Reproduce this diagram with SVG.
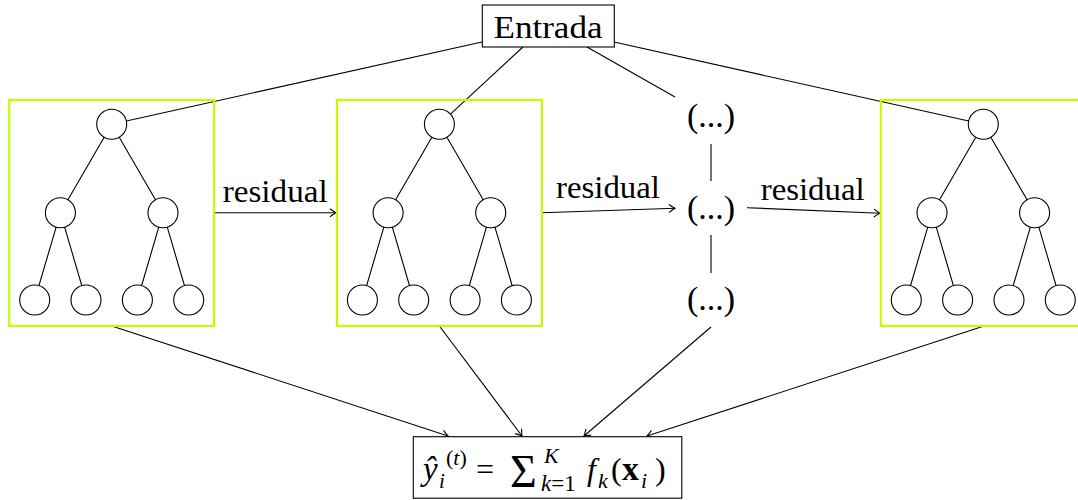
<svg xmlns="http://www.w3.org/2000/svg" width="1078" height="500" viewBox="0 0 1078 500">
<style>
.ln{stroke:#000;stroke-width:1.1;fill:none}
.nd{stroke:#000;stroke-width:1.1;fill:#fff}
.bx{stroke:#bfff00;stroke-width:2.2;fill:none}
.tx{font-family:"Liberation Serif","Times New Roman","DejaVu Serif",serif;fill:#000}
.it{font-style:italic}
</style>
<defs>
<marker id="ar" markerUnits="userSpaceOnUse" markerWidth="12" markerHeight="12" refX="0" refY="0" viewBox="-8 -6 10 12" orient="auto">
<path d="M-6,-4 Q-2,-1 0,0 Q-2,1 -6,4" stroke="#000" stroke-width="1.1" fill="none"/>
</marker>
<g id="tree">
<rect class="bx" x="-102.5" y="-24.3" width="205" height="226"/>
<path class="ln" d="M0,0 L-51.3,88.4 M0,0 L51.3,88.4 M-51.3,88.4 L-77,175.7 M-51.3,88.4 L-25.7,175.7 M51.3,88.4 L25.7,175.7 M51.3,88.4 L77,175.7"/>
<circle class="nd" cx="0" cy="0" r="15"/>
<circle class="nd" cx="-51.3" cy="88.4" r="15"/>
<circle class="nd" cx="51.3" cy="88.4" r="15"/>
<circle class="nd" cx="-77" cy="175.7" r="15"/>
<circle class="nd" cx="-25.7" cy="175.7" r="15"/>
<circle class="nd" cx="25.7" cy="175.7" r="15"/>
<circle class="nd" cx="77" cy="175.7" r="15"/>
</g>
</defs>
<g id="connectors">
<line class="ln" x1="482" y1="42" x2="111.7" y2="124.3"/>
<line class="ln" x1="523" y1="47" x2="439.4" y2="124.3"/>
<line class="ln" x1="587" y1="47" x2="675" y2="97"/>
<line class="ln" x1="614" y1="42" x2="983.3" y2="124.3"/>
<line class="ln" x1="214" y1="212.7" x2="336" y2="212.7" marker-end="url(#ar)"/>
<line class="ln" x1="542" y1="212.7" x2="675" y2="208.3" marker-end="url(#ar)"/>
<line class="ln" x1="747" y1="207.7" x2="880" y2="213.3" marker-end="url(#ar)"/>
<line class="ln" x1="711" y1="144" x2="711" y2="181"/>
<line class="ln" x1="711" y1="235" x2="711" y2="273"/>
<line class="ln" x1="111.7" y1="326" x2="448" y2="436" marker-end="url(#ar)"/>
<line class="ln" x1="439.4" y1="326" x2="522" y2="436" marker-end="url(#ar)"/>
<line class="ln" x1="711" y1="327" x2="584" y2="436" marker-end="url(#ar)"/>
<line class="ln" x1="984" y1="326" x2="647" y2="436" marker-end="url(#ar)"/>
<text class="tx" x="222.7" y="201.5" font-size="32" textLength="105" lengthAdjust="spacingAndGlyphs">residual</text>
<text class="tx" x="556" y="197.5" font-size="32" textLength="104" lengthAdjust="spacingAndGlyphs">residual</text>
<text class="tx" x="760.7" y="200" font-size="32" textLength="104" lengthAdjust="spacingAndGlyphs">residual</text>
</g>
<g id="entrada">
<rect x="482.3" y="5" width="132" height="42" fill="#fff" stroke="#000" stroke-width="1.1"/>
<text class="tx" x="548" y="37.5" font-size="32" text-anchor="middle" textLength="109" lengthAdjust="spacingAndGlyphs">Entrada</text>
</g>
<g id="tree1" transform="translate(111.7,124.3)"><use href="#tree"/></g>
<g id="tree2" transform="translate(439.4,124.3)"><use href="#tree"/></g>
<g id="tree3" transform="translate(983.3,124.3)"><use href="#tree"/></g>
<g id="dots1"><text class="tx" x="711" y="127" font-size="34" text-anchor="middle">(...)</text></g>
<g id="dots2"><text class="tx" x="711" y="218.5" font-size="34" text-anchor="middle">(...)</text></g>
<g id="dots3"><text class="tx" x="711" y="310" font-size="34" text-anchor="middle">(...)</text></g>
<g id="output">
<rect x="413.3" y="436.7" width="268.5" height="61.5" fill="#fff" stroke="#000" stroke-width="1.1"/>
<text class="tx it" x="423" y="480" font-size="33">ŷ</text>
<text class="tx it" x="439" y="488" font-size="21">i</text>
<text class="tx" x="446" y="465" font-size="22">(<tspan class="it">t</tspan>)</text>
<text class="tx" x="476" y="480" font-size="32">=</text>
<text class="tx" x="510" y="487" font-size="46">Σ</text>
<text class="tx it" x="544" y="463" font-size="22">K</text>
<text class="tx" x="541" y="491" font-size="23"><tspan class="it">k</tspan>=1</text>
<text class="tx it" x="587" y="480" font-size="32">f</text>
<text class="tx it" x="598" y="488" font-size="22">k</text>
<text class="tx" x="611" y="480" font-size="32">(</text>
<text class="tx" x="622" y="480" font-size="34" font-weight="bold">x</text>
<text class="tx it" x="641" y="488" font-size="22">i</text>
<text class="tx" x="655" y="480" font-size="32">)</text>
</g>
</svg>
